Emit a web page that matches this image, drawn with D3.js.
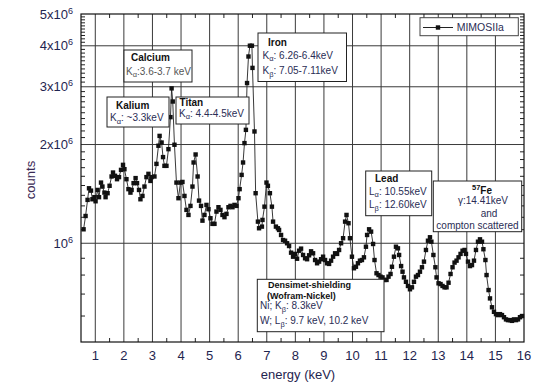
<!DOCTYPE html>
<html><head><meta charset="utf-8">
<script src="https://cdn.jsdelivr.net/npm/d3@7"></script>
<style>
body{margin:0;background:#fff}
svg{display:block;font-family:"Liberation Sans",Arial,sans-serif}
</style>
</head><body>
<svg id="chart" width="540" height="382"></svg>
<script>
// ---- data ----
const energy = [0.59,0.66,0.73,0.78,0.85,0.90,0.97,1.01,1.08,1.13,
1.20,1.25,1.32,1.36,1.43,1.50,1.57,1.62,1.69,1.76,
1.83,1.90,1.97,2.02,2.09,2.16,2.23,2.27,2.34,2.41,
2.46,2.53,2.58,2.65,2.72,2.79,2.86,2.93,2.97,3.07,
3.14,3.21,3.25,3.32,3.37,3.42,3.49,3.56,3.63,3.67,
3.71,3.77,3.84,3.91,3.98,4.05,4.12,4.19,4.26,4.33,
4.40,4.44,4.51,4.58,4.63,4.70,4.75,4.82,4.89,4.96,
5.03,5.10,5.17,5.24,5.31,5.38,5.45,5.52,5.59,5.66,
5.73,5.80,5.87,5.94,6.01,6.05,6.12,6.17,6.22,6.27,
6.31,6.36,6.41,6.48,6.50,6.57,6.61,6.69,6.73,6.83,
6.85,6.92,6.99,7.04,7.11,7.18,7.22,7.32,7.39,7.43,
7.50,7.57,7.64,7.71,7.78,7.85,7.92,7.99,8.06,8.13,
8.20,8.27,8.34,8.41,8.48,8.55,8.62,8.69,8.76,8.83,
8.90,8.97,9.04,9.11,9.18,9.25,9.32,9.39,9.46,9.53,
9.60,9.67,9.74,9.79,9.86,9.91,9.98,10.05,10.12,10.19,
10.26,10.33,10.40,10.47,10.51,10.58,10.65,10.72,10.77,10.84,
10.91,10.98,11.05,11.12,11.19,11.26,11.33,11.38,11.45,11.52,
11.59,11.63,11.70,11.75,11.80,11.87,11.94,12.01,12.08,12.15,
12.22,12.29,12.36,12.43,12.50,12.57,12.64,12.71,12.76,12.83,
12.90,12.94,13.01,13.08,13.15,13.22,13.29,13.36,13.43,13.50,
13.57,13.64,13.71,13.78,13.85,13.92,13.97,14.04,14.11,14.18,
14.25,14.32,14.39,14.46,14.53,14.58,14.65,14.69,14.76,14.81,
14.88,14.95,15.02,15.09,15.16,15.23,15.30,15.37,15.44,15.51,
15.58,15.65,15.72,15.79,15.86,15.93];

// counts in millions
const countsMillions = [1.103,1.211,1.356,1.471,1.447,1.362,1.382,1.343,1.454,1.382,
1.531,1.489,1.427,1.382,1.421,1.497,1.598,1.643,1.606,1.568,
1.591,1.674,1.734,1.682,1.568,1.462,1.427,1.454,1.525,1.580,
1.525,1.454,1.362,1.394,1.489,1.591,1.628,1.549,1.591,1.598,
1.746,1.983,2.125,2.028,1.831,1.722,1.722,1.936,2.424,2.966,
2.705,1.997,1.531,1.372,1.531,1.538,1.394,1.264,1.220,1.300,
1.489,1.763,1.865,1.598,1.349,1.300,1.172,1.220,1.309,1.270,
1.192,1.146,1.146,1.249,1.288,1.264,1.220,1.201,1.229,1.288,
1.300,1.288,1.309,1.300,1.372,1.462,1.616,1.763,2.020,2.217,
3.079,3.710,4.002,4.002,3.425,2.192,1.421,1.164,1.111,1.124,
1.178,1.293,1.531,1.497,1.421,1.293,1.164,1.124,1.111,1.098,
1.060,1.023,1.018,1.000,0.981,0.936,0.910,0.928,0.897,0.949,
0.963,0.921,0.900,0.894,0.919,0.945,0.932,0.889,0.869,0.879,
0.894,0.910,0.889,0.869,0.865,0.885,0.910,0.932,0.928,0.954,
1.000,1.036,1.164,1.220,1.151,1.036,0.910,0.839,0.848,0.869,
0.885,0.889,0.906,0.976,1.060,1.103,1.085,0.995,0.889,0.810,
0.800,0.791,0.787,0.773,0.773,0.791,0.806,0.848,0.910,0.976,
0.965,0.921,0.852,0.819,0.787,0.763,0.741,0.724,0.734,0.763,
0.791,0.800,0.819,0.845,0.879,0.954,1.018,1.043,1.011,0.921,
0.845,0.787,0.755,0.751,0.741,0.734,0.734,0.758,0.806,0.845,
0.873,0.885,0.906,0.928,0.949,0.954,0.928,0.879,0.852,0.858,
0.885,0.954,1.011,1.028,1.011,0.959,0.889,0.800,0.720,0.679,
0.638,0.618,0.608,0.604,0.608,0.604,0.595,0.586,0.583,0.583,
0.580,0.586,0.583,0.586,0.595,0.600];

const xTickValues = [1,2,3,4,5,6,7,8,9,10,11,12,13,14,15,16];
const xMinorValues = [1.5,2.5,3.5,4.5,5.5,6.5,7.5,8.5,9.5,10.5,11.5,12.5,13.5,14.5,15.5];
const yMajorValues = [1,2,3,4,5];               // millions
const yMajorMantissa = ["10","2x10","3x10","4x10","5x10"];
const yMajorExponent = ["6","6","6","6","6"];
const seriesName = "MIMOSIIa";

// ---- layout ----
const svg = d3.select("#chart");
const L = 81, R = 524, T = 14, B = 342;
const x = d3.scaleLinear().domain([0.5, 16]).range([L, R]);
const y = d3.scaleLog().domain([0.5, 5]).range([B, T]);

const gridColor = "#3a3a3a";
const labelColor = "#1f2550";

// gridlines
svg.append("g").selectAll("line").data(xTickValues.filter(v => v < 16)).join("line")
  .attr("x1", d => x(d)).attr("x2", d => x(d)).attr("y1", T).attr("y2", B)
  .attr("stroke", gridColor).attr("stroke-width", 1);
svg.append("g").selectAll("line").data(yMajorValues.filter(v => v < 5)).join("line")
  .attr("x1", L).attr("x2", R).attr("y1", d => y(d)).attr("y2", d => y(d))
  .attr("stroke", gridColor).attr("stroke-width", 1);

// minor y ticks (0.1M steps)
const yMinor = [];
for (let k = 6; k <= 9; k++) yMinor.push(k / 10);
for (let a = 1; a < 5; a++) for (let k = 1; k <= 9; k++) yMinor.push(a + k / 10);

const tickG = svg.append("g").attr("stroke", "#222").attr("stroke-width", 1);
tickG.selectAll(".yl").data(yMinor).join("line")
  .attr("x1", L).attr("x2", L + 4).attr("y1", d => y(d)).attr("y2", d => y(d));
tickG.selectAll(".yr").data(yMinor).join("line")
  .attr("x1", R - 4).attr("x2", R).attr("y1", d => y(d)).attr("y2", d => y(d));
tickG.selectAll(".xb").data(xMinorValues).join("line")
  .attr("x1", d => x(d)).attr("x2", d => x(d)).attr("y1", B).attr("y2", B - 4);
tickG.selectAll(".xt").data(xMinorValues).join("line")
  .attr("x1", d => x(d)).attr("x2", d => x(d)).attr("y1", T).attr("y2", T + 4);

// frame
svg.append("rect").attr("x", L).attr("y", T).attr("width", R - L).attr("height", B - T)
  .attr("fill", "none").attr("stroke", "#111").attr("stroke-width", 1.2);

// x tick labels
svg.append("g").selectAll("text").data(xTickValues).join("text")
  .attr("x", d => x(d)).attr("y", 360).attr("text-anchor", "middle")
  .attr("font-size", 13).attr("fill", labelColor).text(d => d);

// y tick labels
const yl = svg.append("g").selectAll("text").data(yMajorValues).join("text")
  .attr("x", 73).attr("y", d => y(d) + 4.5).attr("text-anchor", "end")
  .attr("font-size", 13).attr("fill", labelColor);
yl.append("tspan").text((d, i) => yMajorMantissa[i]);
yl.append("tspan").attr("dy", -5).attr("font-size", 9).text((d, i) => yMajorExponent[i]);

// axis titles
svg.append("text").attr("x", 298).attr("y", 379).attr("text-anchor", "middle")
  .attr("font-size", 13).attr("fill", labelColor).text("energy (keV)");
svg.append("text").attr("transform", "translate(35,180) rotate(-90)").attr("text-anchor", "middle")
  .attr("font-size", 13).attr("fill", "#3a2a55").text("counts");

// series
const pts = energy.map((e, i) => [e, countsMillions[i]]);
svg.append("path").datum(pts)
  .attr("d", d3.line().x(d => x(d[0])).y(d => y(d[1])))
  .attr("fill", "none").attr("stroke", "#222").attr("stroke-width", 0.9);
svg.append("g").selectAll("rect").data(pts).join("rect")
  .attr("x", d => x(d[0]) - 2.2).attr("y", d => y(d[1]) - 2.2)
  .attr("width", 4.4).attr("height", 4.4).attr("fill", "#111");

// annotation boxes
function box(bx, by, bw, bh) {
  const g = svg.append("g");
  g.append("rect").attr("x", bx).attr("y", by).attr("width", bw).attr("height", bh)
    .attr("fill", "#fff").attr("stroke", "#222").attr("stroke-width", 1);
  return g;
}
function line(g, tx, ty, parts, opts = {}) {
  const t = g.append("text").attr("x", tx).attr("y", ty).attr("font-size", opts.size || 10)
    .attr("fill", opts.fill || "#2a2d55").attr("font-weight", opts.bold ? "bold" : "normal");
  if (opts.anchor) t.attr("text-anchor", opts.anchor);
  parts.forEach(p => {
    const s = t.append("tspan").text(p.t);
    if (p.sub) s.attr("dy", 2.5).attr("font-size", 7.5);
    if (p.back) s.attr("dy", -2.5);
    if (p.sup) s.attr("dy", -4).attr("font-size", 7.5);
    if (p.down) s.attr("dy", 4);
  });
  return t;
}

let g = box(124, 50, 68, 32);
line(g, 131, 61, [{t:"Calcium"}], {bold:true, fill:"#111"});
line(g, 126, 74.5, [{t:"K"},{t:"α",sub:true},{t:":3.6-3.7 keV",back:true}], {fill:"#555"});

g = box(107, 97, 62, 30);
line(g, 116, 108.5, [{t:"Kalium"}], {bold:true, fill:"#111"});
line(g, 110, 121, [{t:"K"},{t:"α",sub:true},{t:": ~3.3keV",back:true}]);

g = box(176, 97, 73, 27);
line(g, 179.5, 105.5, [{t:"Titan"}], {bold:true, fill:"#111"});
line(g, 179, 116.5, [{t:"K"},{t:"α",sub:true},{t:": 4.4-4.5keV",back:true}]);

g = box(258, 33, 88.5, 48.5);
line(g, 268, 45.5, [{t:"Iron"}], {bold:true, fill:"#111"});
line(g, 262.5, 58.5, [{t:"K"},{t:"α",sub:true},{t:": 6.26-6.4keV",back:true}]);
line(g, 262.5, 74, [{t:"K"},{t:"β",sub:true},{t:": 7.05-7.11keV",back:true}]);

g = box(365.7, 171, 66, 44.7);
line(g, 375, 182, [{t:"Lead"}], {bold:true, fill:"#111"});
line(g, 369, 194.5, [{t:"L"},{t:"α",sub:true},{t:": 10.55keV",back:true}]);
line(g, 369, 208, [{t:"L"},{t:"β",sub:true},{t:": 12.60keV",back:true}]);

g = box(433.3, 181, 88.4, 50.7);
line(g, 482, 194, [{t:"57",sup:true},{t:"Fe",down:true}], {bold:true, fill:"#111", anchor:"middle"});
line(g, 483, 204, [{t:"γ:14.41keV"}], {anchor:"middle"});
line(g, 489, 216.5, [{t:"and"}], {anchor:"middle"});
line(g, 477.5, 229, [{t:"compton scattered"}], {anchor:"middle"});

g = box(257.3, 279.3, 126.7, 52.4);
line(g, 268, 288, [{t:"Densimet-shielding"}], {bold:true, fill:"#111", size:9});
line(g, 267, 298.6, [{t:"(Wofram-Nickel)"}], {bold:true, fill:"#111", size:9});
line(g, 260, 309, [{t:"Ni;  K"},{t:"β",sub:true},{t:": 8.3keV",back:true}]);
line(g, 260, 324, [{t:"W;  L"},{t:"β",sub:true},{t:": 9.7 keV, 10.2 keV",back:true}]);

// legend
const lg = svg.append("g");
lg.append("rect").attr("x", 420).attr("y", 17.7).attr("width", 98.3).attr("height", 18)
  .attr("fill", "#fff").attr("stroke", "#444").attr("stroke-width", 1);
lg.append("line").attr("x1", 423).attr("x2", 453).attr("y1", 27.5).attr("y2", 27.5)
  .attr("stroke", "#222").attr("stroke-width", 1);
lg.append("rect").attr("x", 435.8).attr("y", 25.3).attr("width", 4.4).attr("height", 4.4).attr("fill", "#111");
lg.append("text").attr("x", 456.7).attr("y", 30.5).attr("font-size", 10.5).attr("fill", "#2a2d55").text(seriesName);
</script>
</body></html>
